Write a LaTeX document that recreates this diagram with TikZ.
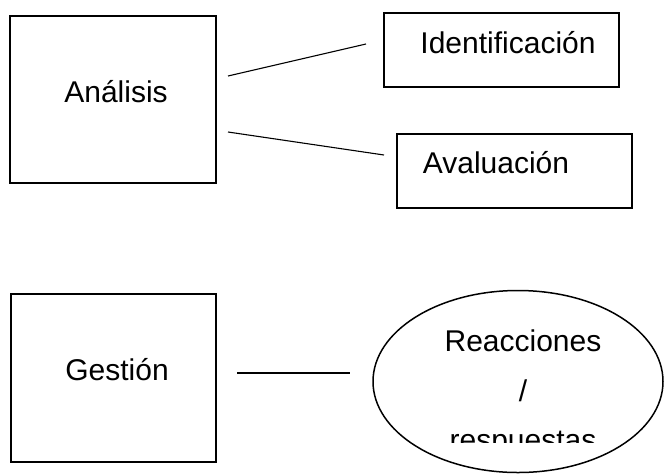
\documentclass[tikz,border=0pt]{standalone}
\usepackage{fontspec}
\setmainfont{Liberation Sans}
\usetikzlibrary{shapes.geometric}
\begin{document}
\begin{tikzpicture}[x=1pt,y=-1pt,
  boxn/.style={draw, line width=2.2pt, inner sep=0pt},
  lbl/.style={font=\fontsize{30}{36}\selectfont, inner sep=0pt, anchor=base},
  conn/.style={line width=1.1pt}]
\useasboundingbox (0,0) rectangle (664,475);
% boxes
\node[boxn, minimum width=206pt, minimum height=167pt] (ana) at (113,99.5) {};
\node[boxn, minimum width=235pt, minimum height=74pt] (ide) at (501.5,50) {};
\node[boxn, minimum width=235pt, minimum height=74pt] (ava) at (514.5,171) {};
\node[boxn, minimum width=205pt, minimum height=168pt] (ges) at (113.5,378) {};
\node[draw, ellipse, line width=1.5pt, minimum width=290pt, minimum height=182pt, inner sep=0pt] (rea) at (518,381.5) {};
% labels
\node[lbl] (tana) at (116,102) {Análisis};
\node[lbl] (tide) at (508,53) {Identificación};
\node[lbl] (tava) at (496,173) {Avaluación};
\node[lbl] (tges) at (117,380) {Gestión};
\node[lbl] (trea) at (523,351) {Reacciones};
\node[lbl] (tsl) at (523,401) {/};
\begin{scope}
  \clip (380,420) rectangle (660,442);
  \node[lbl] (tres) at (523,450) {respuestas};
\end{scope}
% connectors
\coordinate (a1) at (228,76);
\coordinate (i1) at (366,44);
\coordinate (a2) at (228,132);
\coordinate (v1) at (384,155);
\coordinate (g1) at (237,373);
\coordinate (r1) at (350,373);
\draw[conn] (a1) -- (i1);
\draw[conn] (a2) -- (v1);
\draw[conn] (g1) -- (r1);
\end{tikzpicture}
\end{document}
